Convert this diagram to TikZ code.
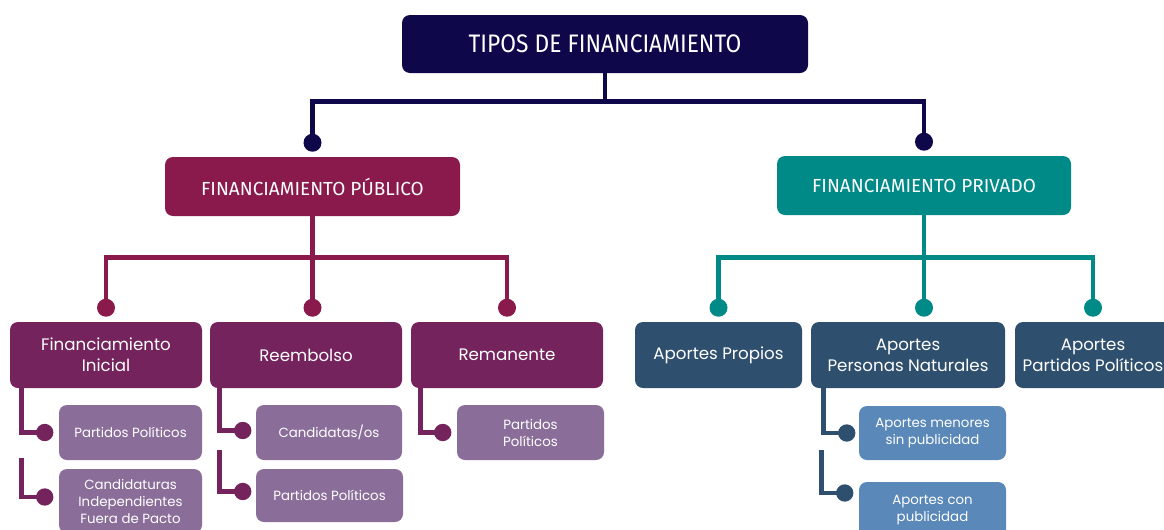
\documentclass[tikz,border=0pt]{standalone}
\usepackage{fontspec}
\setmainfont{Poppins}
\newfontfamily\condfont[FakeStretch=0.9]{Fira Sans}
\newfontfamily\midfont{Fira Sans}
\usetikzlibrary{calc}
\definecolor{cRoot}{RGB}{14,7,74}
\definecolor{cPub}{RGB}{138,26,75}
\definecolor{cPriv}{RGB}{0,138,135}
\definecolor{cPurp}{RGB}{116,35,92}
\definecolor{cNavy}{RGB}{47,79,110}
\definecolor{cLPurp}{RGB}{138,110,153}
\definecolor{cLBlue}{RGB}{90,136,184}
\tikzset{
  box/.style={rectangle, rounded corners=6pt, text=white, align=center, inner sep=0pt},
  topbox/.style={box, font=\condfont\fontsize{19}{22}\selectfont},
  midbox/.style={box, font=\midfont\fontsize{14.2}{17}\selectfont},
  lvbox/.style={box, font=\fontsize{12.5}{15.5}\selectfont},
  subbox/.style={box, font=\fontsize{10}{12.75}\selectfont},
  conn/.style={line width=3.6pt},
  subconn/.style={line width=3.6pt},
  dot/.style={circle, fill, inner sep=0pt, minimum size=13.5pt},
  sdot/.style={circle, fill, inner sep=0pt, minimum size=13pt},
}
\begin{document}
\begin{tikzpicture}[x=0.75pt,y=-0.75pt]
\useasboundingbox (0,0) rectangle (1164,529);
\fill[white] (0,0) rectangle (1164,529);
\begin{scope}
\clip (0,0) rectangle (1164,529);
% root
\node[topbox, fill=cRoot, minimum width=304.5pt, minimum height=43.5pt] (root) at (605,44) {TIPOS DE FINANCIAMIENTO};
% level 1
\node[midbox, fill=cPub, minimum width=221.25pt, minimum height=44.25pt] (pub) at (312.5,186.5) {FINANCIAMIENTO PÚBLICO};
\node[midbox, fill=cPriv, minimum width=220.5pt, minimum height=44.25pt] (priv) at (924,185.5) {FINANCIAMIENTO PRIVADO};
% level 2
\node[lvbox, fill=cPurp, minimum width=144pt, minimum height=49.5pt] (fi) at (106,355) {Financiamiento\\Inicial};
\node[lvbox, fill=cPurp, minimum width=144pt, minimum height=49.5pt] (reem) at (306,355) {Reembolso};
\node[lvbox, fill=cPurp, minimum width=144pt, minimum height=49.5pt] (rema) at (507,355) {Remanente};
\node[lvbox, fill=cNavy, minimum width=125.25pt, minimum height=49.5pt] (ap) at (718.5,355) {Aportes Propios};
\node[lvbox, fill=cNavy, minimum width=145.5pt, minimum height=49.5pt] (apn) at (908,355) {Aportes\\Personas Naturales};
\node[lvbox, fill=cNavy, minimum width=117pt, minimum height=49.5pt] (app) at (1093,355) {Aportes\\Partidos Políticos};
% level 3
\node[subbox, fill=cLPurp, minimum width=107.25pt, minimum height=41.25pt] (fi1) at (130.5,432.5) {Partidos Políticos};
\node[subbox, fill=cLPurp, minimum width=107.25pt, minimum height=48pt] (fi2) at (130.5,501) {Candidaturas\\Independientes\\Fuera de Pacto};
\node[subbox, fill=cLPurp, minimum width=109.5pt, minimum height=41.25pt] (re1) at (329,432.5) {Candidatas/os};
\node[subbox, fill=cLPurp, minimum width=110.25pt, minimum height=39.75pt] (re2) at (329.5,495.5) {Partidos Políticos};
\node[subbox, fill=cLPurp, minimum width=110.25pt, minimum height=41.25pt] (rm1) at (530.5,432.5) {Partidos\\Políticos};
\node[subbox, fill=cLBlue, minimum width=110.25pt, minimum height=40.5pt] (pn1) at (932.5,433) {Aportes menores\\sin publicidad};
\node[subbox, fill=cLBlue, minimum width=110.25pt, minimum height=42pt] (pn2) at (932.5,510) {Aportes con\\publicidad};
\end{scope}
% dots
\coordinate (dpub) at ($(pub.north)+(0,-14)$);
\coordinate (dpriv) at ($(priv.north)+(0,-14)$);
\coordinate (dfi) at ($(fi.north)+(0,-14)$);
\coordinate (dreem) at (pub.south |- dfi);
\coordinate (drema) at ($(rema.north)+(0,-14)$);
\coordinate (dap) at ($(ap.north)+(0,-14)$);
\coordinate (dapn) at (priv.south |- dap);
\coordinate (dapp) at ($(app.north)+(0,-14)$);
% root connectors
\draw[conn, cRoot] (root.south) -- ++(0,28) coordinate (rj);
\draw[conn, cRoot, line join=miter] (dpub) |- (rj) -| (dpriv);
\node[dot, fill=cRoot, minimum width=10pt, minimum height=13.5pt] at (dpub) {};
\node[dot, fill=cRoot, minimum width=10pt, minimum height=13.5pt] at (dpriv) {};
% public connectors
\draw[conn, cPub] (pub.south) -- (dreem);
\draw[conn, cPub] (dfi) |- ($(pub.south)+(0,41)$) -| (drema);
\foreach \d in {dfi,dreem,drema} \node[dot, fill=cPub] at (\d) {};
% private connectors
\draw[conn, cPriv] (priv.south) -- (dapn);
\draw[conn, cPriv] (dap) |- ($(priv.south)+(0,42)$) -| (dapp);
\foreach \d in {dap,dapn,dapp} \node[dot, fill=cPriv] at (\d) {};
% sub connectors
\draw[subconn, cPurp] ($(fi.south west)+(12,0)$) |- ($(fi1.west)+(-14,0)$) coordinate (s1);
\node[sdot, fill=cPurp] at (s1) {};
\draw[subconn, cPurp] ($(fi.south west)+(12,70)$) |- ($(fi1.west |- fi2.west)+(-14,-4)$) coordinate (s2);
\node[sdot, fill=cPurp] at (s2) {};
\draw[subconn, cPurp] ($(reem.south west)+(10,0)$) |- ($(re1.west)+(-13,-2)$) coordinate (s3);
\node[sdot, fill=cPurp] at (s3) {};
\draw[subconn, cPurp] ($(reem.south west)+(10,62)$) |- ($(re2.west)+(-13,-4)$) coordinate (s4);
\node[sdot, fill=cPurp] at (s4) {};
\draw[subconn, cPurp] ($(rema.south west)+(10,0)$) |- ($(rm1.west)+(-14,0)$) coordinate (s5);
\node[sdot, fill=cPurp] at (s5) {};
\draw[subconn, cNavy] ($(apn.south west)+(13,0)$) |- ($(pn1.west)+(-12,0)$) coordinate (s6);
\node[sdot, fill=cNavy] at (s6) {};
\draw[subconn, cNavy] ($(apn.south west)+(11,62)$) |- ($(pn2.west |- 0,493)+(-14,0)$) coordinate (s7);
\node[sdot, fill=cNavy] at (s7) {};
\end{tikzpicture}
\end{document}
